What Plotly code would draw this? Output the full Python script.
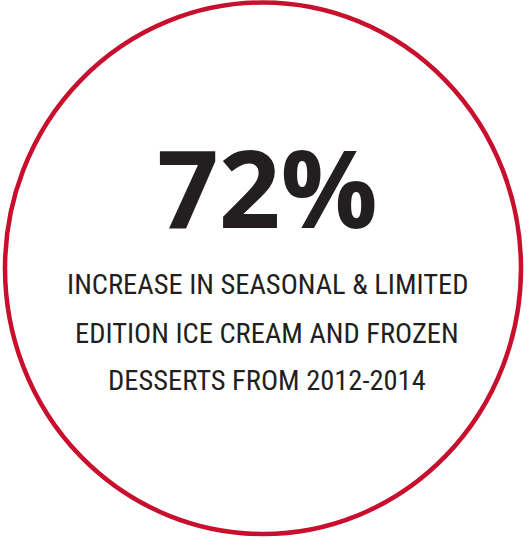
import plotly.graph_objects as go

W, H = 529, 540

# Data
stat_value = 72
stat_suffix = "%"
caption_lines = [
    "INCREASE IN SEASONAL & LIMITED",
    "EDITION ICE CREAM AND FROZEN",
    "DESSERTS FROM 2012-2014",
]

RED = "#c8102e"
DARK = "#231f20"

fig = go.Figure()

# circle outline (pixel coordinates mapped to axes)
fig.add_shape(type="circle", xref="x", yref="y",
              x0=5, x1=521, y0=H - 534, y1=H - 2.5,
              line=dict(color=RED, width=4.5), fillcolor="white")

fig.add_annotation(x=267, y=H - 186, xref="x", yref="y",
                   text=f"<b>{stat_value}{stat_suffix}</b>", showarrow=False,
                   font=dict(family="Open Sans", size=108, color=DARK),
                   xanchor="center", yanchor="middle")

cap_centers = [284, 333, 380]
for line, cy in zip(caption_lines, cap_centers):
    fig.add_annotation(x=267, y=H - cy, xref="x", yref="y",
                       text=line, showarrow=False,
                       font=dict(family="Roboto Condensed", size=28.5, color=DARK),
                       xanchor="center", yanchor="middle")

fig.update_xaxes(range=[0, W], visible=False, fixedrange=True)
fig.update_yaxes(range=[0, H], visible=False, fixedrange=True)
fig.update_layout(width=W, height=H, margin=dict(l=0, r=0, t=0, b=0),
                  paper_bgcolor="white", plot_bgcolor="white", showlegend=False)

fig.write_html("out.html", config={"displayModeBar": False},
               post_script="document.body.style.margin='0';"
                           "var d=document.getElementById('{plot_id}');"
                           "d.style.position='fixed';d.style.left='0';d.style.top='0';")
